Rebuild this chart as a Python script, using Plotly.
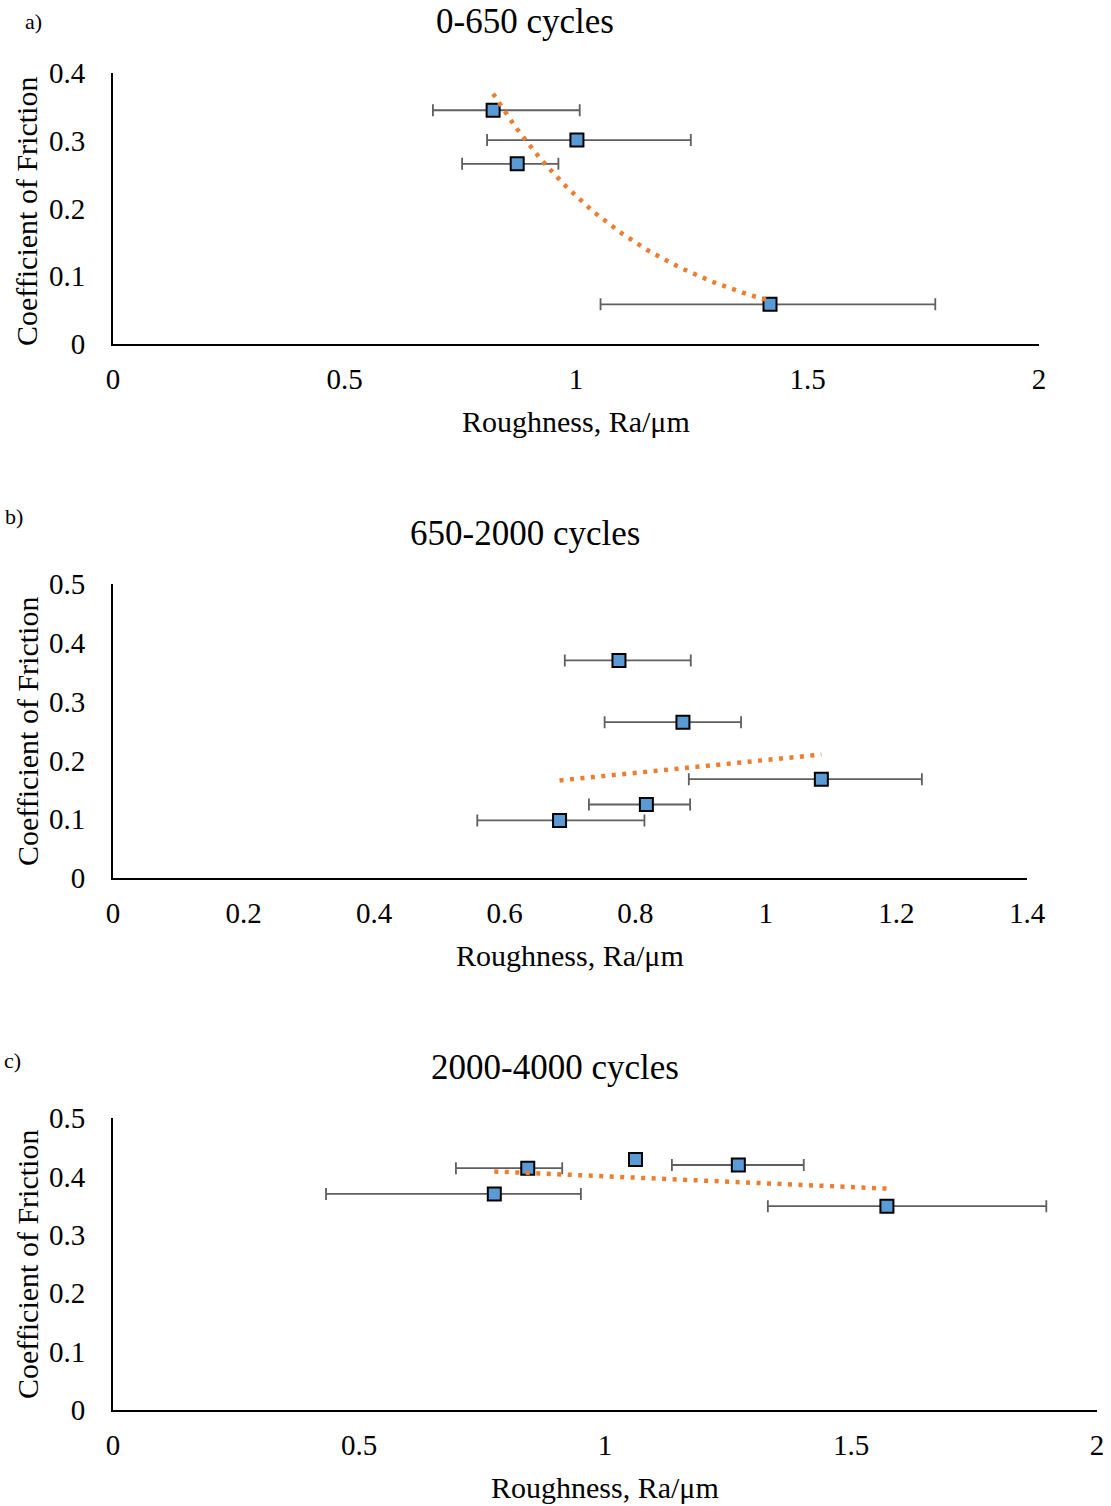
import numpy as np
import plotly.graph_objects as go

W, H = 1111, 1506

# ---------------- data ----------------
# a) 0-650 cycles
a_ra = [0.821, 1.002, 0.873, 1.419]
a_cof = [0.345, 0.301, 0.266, 0.0586]
a_err_plus = [0.187, 0.246, 0.089, 0.357]
a_err_minus = [0.130, 0.194, 0.119, 0.366]

# b) 650-2000 cycles
b_ra = [0.775, 0.873, 1.085, 0.817, 0.684]
b_cof = [0.370, 0.265, 0.168, 0.125, 0.098]
b_err_plus = [0.110, 0.089, 0.154, 0.067, 0.130]
b_err_minus = [0.083, 0.120, 0.203, 0.088, 0.126]
b_trend_cof = [0.166, 0.210]   # dotted trend line values at min / max roughness

# c) 2000-4000 cycles
c_ra = [0.843, 0.775, 1.062, 1.271, 1.573]
c_cof = [0.414, 0.370, 0.429, 0.4195, 0.349]
c_err_plus = [0.070, 0.176, 0.0, 0.133, 0.324]
c_err_minus = [0.146, 0.342, 0.0, 0.135, 0.242]

titles = ["0-650 cycles", "650-2000 cycles", "2000-4000 cycles"]
panel_labels = ["a)", "b)", "c)"]
x_title = "Roughness, Ra/μm"
y_title = "Coefficient of Friction"

x_ticks_a = [0, 0.5, 1, 1.5, 2]
x_ticks_b = [0, 0.2, 0.4, 0.6, 0.8, 1, 1.2, 1.4]
x_ticks_c = [0, 0.5, 1, 1.5, 2]
y_ticks_a = [0, 0.1, 0.2, 0.3, 0.4]
y_ticks_b = [0, 0.1, 0.2, 0.3, 0.4, 0.5]
y_ticks_c = [0, 0.1, 0.2, 0.3, 0.4, 0.5]

# ---------------- styling ----------------
FONT = "Liberation Serif"
MARKER_FILL = "#5B9BD5"
TREND = "#ED7D31"
ERR = "#5f5f5f"


def px(x):
    return x / W


def py(y):
    return 1 - y / H


# trend lines
a_x = np.linspace(min(a_ra), max(a_ra), 80)
a_fit = np.polyfit(a_ra, np.log(a_cof), 1)
a_trend = np.exp(np.polyval(a_fit, a_x))

b_x = [min(b_ra), max(b_ra)]
b_trend = b_trend_cof

c_x = np.array([min(c_ra), max(c_ra)])
c_fit = np.polyfit(c_ra, c_cof, 1)
c_trend = np.polyval(c_fit, c_x)

panels = [
    dict(ra=a_ra, cof=a_cof, ep=a_err_plus, em=a_err_minus, tx=a_x, ty=a_trend,
         xr=[0, 2], yr=[0, 0.4], xt=x_ticks_a, yt=y_ticks_a,
         xdom=[113, 1039], ydom=[344, 73],
         title=(525, 22), xtitle=(576, 422), ytitle=(27, 212), label=(33, 22)),
    dict(ra=b_ra, cof=b_cof, ep=b_err_plus, em=b_err_minus, tx=b_x, ty=b_trend,
         xr=[0, 1.4], yr=[0, 0.5], xt=x_ticks_b, yt=y_ticks_b,
         xdom=[113, 1027], ydom=[878, 584],
         title=(525, 533), xtitle=(570, 955), ytitle=(27, 732), label=(14, 517)),
    dict(ra=c_ra, cof=c_cof, ep=c_err_plus, em=c_err_minus, tx=c_x, ty=c_trend,
         xr=[0, 2], yr=[0, 0.5], xt=x_ticks_c, yt=y_ticks_c,
         xdom=[113, 1097], ydom=[1410, 1118],
         title=(555, 1067), xtitle=(605, 1487), ytitle=(27, 1265), label=(12, 1060)),
]

fig = go.Figure()
annotations = []
layout_axes = {}

for i, p in enumerate(panels):
    n = "" if i == 0 else str(i + 1)
    xa, ya = "x" + n, "y" + n
    fig.add_trace(go.Scatter(
        x=p["ra"], y=p["cof"], mode="markers", xaxis=xa, yaxis=ya,
        marker=dict(symbol="square", size=13, color=MARKER_FILL,
                    line=dict(color="black", width=2)),
        error_x=dict(type="data", symmetric=False, array=p["ep"], arrayminus=p["em"],
                     visible=True, color=ERR, thickness=1.8, width=6),
        showlegend=False, cliponaxis=False))
    fig.add_trace(go.Scatter(
        x=p["tx"], y=p["ty"], mode="lines", xaxis=xa, yaxis=ya,
        line=dict(color=TREND, width=4.5, dash="4px,6.5px"),
        showlegend=False, hoverinfo="skip"))

    layout_axes["xaxis" + n] = dict(
        domain=[px(p["xdom"][0]), px(p["xdom"][1])], range=p["xr"],
        anchor=ya, tickmode="array", tickvals=p["xt"],
        ticktext=[f"{v:g}" for v in p["xt"]], automargin=False,
        showgrid=False, zeroline=False, showline=True, linecolor="black", linewidth=2,
        ticks="", ticklabelstandoff=8,
        tickfont=dict(family=FONT, size=29, color="black"))
    layout_axes["yaxis" + n] = dict(
        domain=[py(p["ydom"][0]), py(p["ydom"][1])], range=p["yr"],
        anchor=xa, tickmode="array", tickvals=p["yt"],
        ticktext=[f"{v:g}" for v in p["yt"]], automargin=False,
        showgrid=False, zeroline=False, showline=True, linecolor="black", linewidth=2,
        ticks="", ticklabelstandoff=20,
        tickfont=dict(family=FONT, size=29, color="black"))

    annotations.append(dict(text=titles[i], x=px(p["title"][0]), y=py(p["title"][1]),
                            xref="paper", yref="paper", xanchor="center", yanchor="middle",
                            showarrow=False, font=dict(family=FONT, size=35, color="black")))
    annotations.append(dict(text=x_title, x=px(p["xtitle"][0]), y=py(p["xtitle"][1]),
                            xref="paper", yref="paper", xanchor="center", yanchor="middle",
                            showarrow=False, font=dict(family=FONT, size=30, color="black")))
    annotations.append(dict(text=y_title, x=px(p["ytitle"][0]), y=py(p["ytitle"][1]),
                            xref="paper", yref="paper", xanchor="center", yanchor="middle",
                            textangle=-90,
                            showarrow=False, font=dict(family=FONT, size=30, color="black")))
    annotations.append(dict(text=panel_labels[i], x=px(p["label"][0]), y=py(p["label"][1]),
                            xref="paper", yref="paper", xanchor="center", yanchor="middle",
                            showarrow=False, font=dict(family=FONT, size=22, color="black")))

fig.update_layout(
    width=W, height=H,
    margin=dict(l=0, r=0, t=0, b=0, pad=0, autoexpand=False),
    paper_bgcolor="white", plot_bgcolor="white",
    annotations=annotations,
    **layout_axes)

fig.write_html(
    "out.html",
    config={"displayModeBar": False},
    post_script=("document.body.style.margin='0';"
                 "document.body.style.padding='0';"
                 "document.documentElement.style.overflow='hidden';"
                 "document.body.style.overflow='hidden';"))
